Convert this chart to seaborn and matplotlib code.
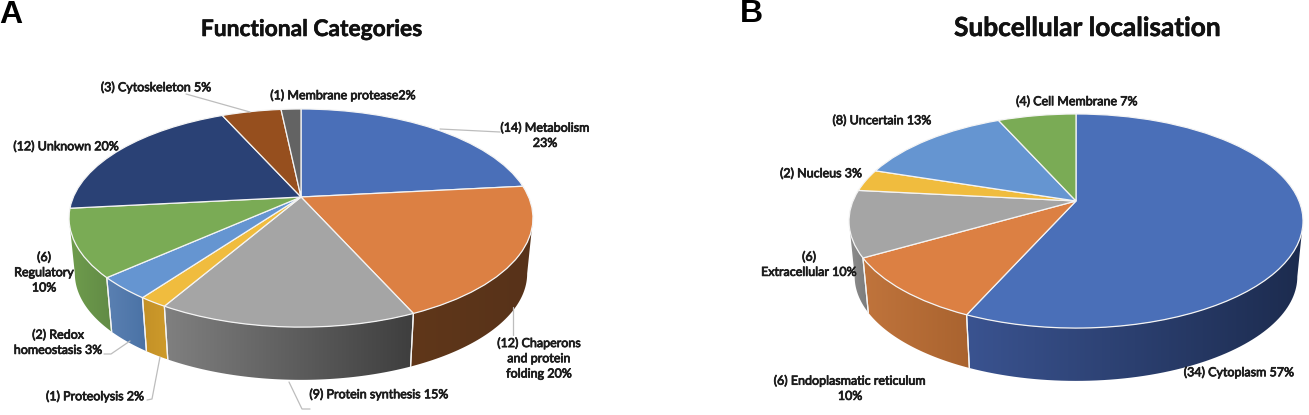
import numpy as np
import matplotlib
matplotlib.use('Agg')
import matplotlib.pyplot as plt
import matplotlib.patheffects as pe
import seaborn as sns
from matplotlib.colors import LinearSegmentedColormap
from matplotlib.patches import Polygon
from matplotlib.transforms import Transform

# Panel A data
func_counts = [14, 12, 9, 1, 2, 6, 12, 3, 1]
func_colors = ['#4A6FB8', '#DC8043', '#A5A5A5', '#F0BC3E', '#6595D1', '#7AAB55', '#2A4175', '#964F1E', '#636363']
func_walls = [('#2A4175', '#2A4175'), ('#603719', '#57321A'), ('#808080', '#3E3E3E'), ('#C39128', '#CE9A2A'),
              ('#5A80B2', '#4A72A5'), ('#6F9C4D', '#618B45'), ('#2A4175', '#2A4175'), ('#964F1E', '#964F1E'), ('#636363', '#636363')]
func_labels = ['(14) Metabolism\n23%', '(12) Chaperons\nand protein\nfolding 20%', '(9) Protein synthesis 15%',
               '(1) Proteolysis 2%', '(2) Redox\nhomeostasis 3%', '(6)\nRegulatory\n10%', '(12) Unknown 20%',
               '(3) Cytoskeleton 5%', '(1) Membrane protease2%']
func_label_pos = [(545, 135), (539, 358), (379, 394), (95, 396), (58, 342), (44, 272), (66, 146), (156, 87), (343, 95)]
func_leaders = [[(440, 129), (500, 132)], [(513, 307), (513, 335)], [(289, 382), (302, 409), (310, 409)],
                [(147, 400), (152, 399), (160, 357)], [(104, 354), (111, 354), (130, 341)], [(186, 94), (250, 112)]]

# Panel B data
loc_counts = [34, 6, 6, 2, 8, 4]
loc_colors = ['#4A6FB8', '#DC8043', '#A5A5A5', '#F0BC3E', '#6595D1', '#7AAB55']
loc_walls = [('#3A5390', '#1C2B4E'), ('#C0743C', '#A9632F'), ('#8E8E8E', '#7A7A7A'), ('#C39128', '#C39128'),
             ('#5A80B2', '#5A80B2'), ('#7AAB55', '#7AAB55')]
loc_labels = ['(34) Cytoplasm 57%', '(6) Endoplasmatic reticulum\n10%', '(6)\nExtracellular 10%', '(2) Nucleus 3%',
              '(8) Uncertain 13%', '(4) Cell Membrane 7%']
loc_label_pos = [(1239, 372), (850, 388), (809, 264), (821, 173), (882, 120), (1077, 101)]

sns.set_theme(style='white')
plt.rcParams['font.family'] = ['Lato', 'DejaVu Sans']
TEXT = '#1c1c1c'


class Tilt(Transform):
    # perspective view of the unit circle, result in pixels
    input_dims = 2
    output_dims = 2

    def __init__(self, cx, cy, ax_, ay_, k):
        super().__init__()
        self.p = (cx, cy, ax_, ay_, k)

    def transform_non_affine(self, values):
        cx, cy, a, b, k = self.p
        values = np.asarray(values)
        d = 1 + k * values[:, 1]
        return np.column_stack([cx + a * values[:, 0] / d, cy - b * values[:, 1] / d])


def draw_pie(ax, counts, colors, walls, cx, cy, a, b, k, shrink=0.975, drop=56):
    tilt = Tilt(cx, cy, a, b, k)
    wedges, _ = ax.pie(counts, colors=colors, startangle=90, counterclock=False,
                       wedgeprops=dict(edgecolor='#f4f4f4', linewidth=0.9))
    for w in wedges:
        w.set_transform(tilt + ax.transData)
        w.set_zorder(3)

    def rim(deg):
        t = np.radians(deg)
        top = tilt.transform_non_affine(np.column_stack([np.cos(t), np.sin(t)]))
        bottom = np.column_stack([cx + shrink * (top[:, 0] - cx), cy + shrink * (top[:, 1] - cy) + drop])
        return top, bottom

    # the wall is visible between the two points where the rim turns back
    turn = np.degrees(np.arcsin(k))
    for w, (left, right) in zip(wedges, walls):
        t1, t2 = max(w.theta1, -180 + turn), min(w.theta2, -turn)
        if t1 >= t2:
            continue
        top, bottom = rim(np.linspace(t1, t2, 70))
        verts = np.vstack([top, bottom[::-1]])
        cmap = LinearSegmentedColormap.from_list('wall', [left, right])
        im = ax.imshow(np.linspace(0, 1, 256)[None, :], cmap=cmap, aspect='auto', zorder=1,
                       extent=[verts[:, 0].min(), verts[:, 0].max(), verts[:, 1].max(), verts[:, 1].min()])
        im.set_clip_path(Polygon(verts, transform=ax.transData))
        for edge in (w.theta1, w.theta2):
            if -180 + turn < edge < -turn:
                top_e, bottom_e = rim(np.array([edge]))
                ax.plot([top_e[0, 0], bottom_e[0, 0]], [top_e[0, 1], bottom_e[0, 1]],
                        color='#f4f4f4', lw=0.9, zorder=2)


def draw_labels(ax, labels, positions):
    for text, (x, y) in zip(labels, positions):
        ax.text(x, y, text, ha='center', va='center', fontsize=9, color=TEXT, linespacing=1.32, zorder=5,
                path_effects=[pe.withStroke(linewidth=0.55, foreground=TEXT)])


fig = plt.figure(figsize=(13.09, 4.15), dpi=100)
ax = fig.add_axes([0, 0, 1, 1])

draw_pie(ax, func_counts, func_colors, func_walls, 301, 197, 227.6, 105, 0.193)
draw_pie(ax, loc_counts, loc_colors, loc_walls, 1076, 201, 223, 103.3, 0.187)

draw_labels(ax, func_labels, func_label_pos)
draw_labels(ax, loc_labels, loc_label_pos)
for pts in func_leaders:
    xs, ys = zip(*pts)
    ax.plot(xs, ys, color='#bdbdbd', lw=0.9, zorder=4)

heavy = [pe.withStroke(linewidth=0.4, foreground='#111111')]
ax.text(311, 29.5, 'Functional Categories', ha='center', va='center', fontsize=16.4, fontweight='bold',
        color='#111111', path_effects=heavy)
ax.text(1087.5, 28, 'Subcellular localisation', ha='center', va='center', fontsize=18.9, fontweight='bold',
        color='#111111', path_effects=heavy)
ax.text(11, 15, 'A', ha='center', va='center', fontsize=23, fontweight='bold', color='black', family='Liberation Sans')
ax.text(751, 14, 'B', ha='center', va='center', fontsize=23, fontweight='bold', color='black', family='Liberation Sans')

ax.set_aspect('auto')
ax.set_xlim(0, 1309)
ax.set_ylim(415, 0)
ax.axis('off')
fig.savefig('out.png', dpi=100, facecolor='white')
